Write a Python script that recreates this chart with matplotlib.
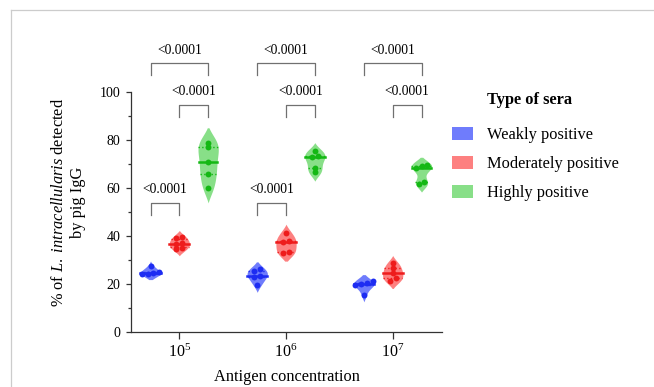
import numpy as np
import matplotlib
matplotlib.use('Agg')
import matplotlib.pyplot as plt
from matplotlib.patches import Patch
from matplotlib.lines import Line2D

plt.rcParams['font.family'] = ['Liberation Serif', 'DejaVu Serif']
plt.rcParams['mathtext.fontset'] = 'custom'
plt.rcParams['mathtext.rm'] = 'Liberation Serif'
plt.rcParams['mathtext.it'] = 'Liberation Serif:italic'
plt.rcParams['mathtext.bf'] = 'Liberation Serif:bold'

# data
concentrations = ['$10^5$', '$10^6$', '$10^7$']
sera_types = ['Weakly positive', 'Moderately positive', 'Highly positive']

weakly = [
    [27.3, 24.8, 24.6, 24.2, 24.0],
    [26.1, 25.4, 23.3, 22.7, 19.5],
    [21.0, 20.5, 19.8, 19.3, 15.3],
]
moderately = [
    [39.5, 39.3, 37.0, 36.6, 35.0, 34.4],
    [41.4, 38.0, 37.3, 33.2, 33.0],
    [28.6, 26.5, 24.4, 22.3, 21.3],
]
highly = [
    [79.0, 77.0, 71.0, 66.0, 60.0],
    [75.3, 73.2, 72.8, 68.2, 66.5],
    [69.5, 69.3, 68.5, 62.4, 61.7],
]

# (first series, second series, label) per concentration
comparisons = [
    [(0, 2, '<0.0001'), (1, 2, '<0.0001'), (0, 1, '<0.0001')],
    [(0, 2, '<0.0001'), (1, 2, '<0.0001'), (0, 1, '<0.0001')],
    [(0, 2, '<0.0001'), (1, 2, '<0.0001')],
]

fill_colors = ['#6f7cfc', '#fd8080', '#88df88']
dot_colors = ['#1d2cf2', '#ee1c1c', '#14b814']
offsets = [-0.27, 0.0, 0.27]
half_width = 0.095


def kde_outline(vals, cut=1.4, n=200):
    vals = np.asarray(vals, dtype=float)
    bw = 0.18 * (vals.max() - vals.min()) + 1.0
    ys = np.linspace(vals.min() - cut * bw, vals.max() + cut * bw, n)
    dens = np.exp(-0.5 * ((ys[:, None] - vals[None, :]) / bw) ** 2).sum(axis=1)
    dens = np.clip(dens - min(dens[0], dens[-1]), 0, None)
    return ys, dens / dens.max()


def spread(vals, tol=1.2, step=0.055):
    # spread points that sit at nearly the same height
    vals = np.asarray(vals, dtype=float)
    order = np.argsort(vals)
    dx = np.zeros(len(vals))
    groups = [[order[0]]]
    for i in order[1:]:
        if vals[i] - vals[groups[-1][-1]] < tol:
            groups[-1].append(i)
        else:
            groups.append([i])
    for g in groups:
        k = len(g)
        for j, idx in enumerate(g):
            dx[idx] = (j - (k - 1) / 2) * step
    return dx


fig = plt.figure(figsize=(6.54, 3.87), dpi=100)
ax = fig.add_axes([131 / 654, 1 - 331.7 / 387, 311 / 654, 239.4 / 387])

series = [weakly, moderately, highly]
for g in range(len(concentrations)):
    for s in range(3):
        vals = np.array(series[s][g])
        xc = g + 1 + offsets[s]
        ys, dens = kde_outline(vals)
        w = dens * half_width
        ax.fill_betweenx(ys, xc - w, xc + w, color=fill_colors[s], lw=0, zorder=2)
        q1, med, q3 = np.percentile(vals, [25, 50, 75])
        for q, ls, lw in [(q1, ':', 1.0), (med, '-', 1.8), (q3, ':', 1.0)]:
            wq = np.interp(q, ys, w)
            ax.plot([xc - wq, xc + wq], [q, q], color=dot_colors[s], ls=ls, lw=lw, zorder=3)
        ax.scatter(xc + spread(vals), vals, s=18, color=dot_colors[s], lw=0, zorder=4)

# significance brackets
bracket_levels = {(0, 2): (112.1, 107.2, 117.4), (1, 2): (94.7, 89.7, 100.5), (0, 1): (53.6, 48.7, 59.4)}
for g, comps in enumerate(comparisons):
    for a, b, label in comps:
        top, low, ty = bracket_levels[(a, b)]
        x0 = g + 1 + offsets[a]
        x1 = g + 1 + offsets[b]
        ax.plot([x0, x0, x1, x1], [low, top, top, low], color='#707070', lw=0.9,
                clip_on=False, zorder=1)
        ax.text((x0 + x1) / 2, ty, label, ha='center', va='center', fontsize=9.8)

ax.set_xlim(0.547, 3.462)
ax.set_ylim(0, 100)
ax.set_xticks([1, 2, 3])
ax.set_xticklabels(concentrations)
ax.set_yticks(np.arange(0, 101, 20))
ax.set_yticks(np.arange(10, 100, 20), minor=True)
ax.spines['top'].set_visible(False)
ax.spines['right'].set_visible(False)
for sp in ['left', 'bottom']:
    ax.spines[sp].set_color('#333333')
    ax.spines[sp].set_linewidth(0.9)
ax.tick_params(axis='y', which='major', length=3.6, width=0.9, color='#333333',
               labelsize=10, pad=4)
ax.tick_params(axis='y', which='minor', length=2.4, width=0.9, color='#333333')
ax.tick_params(axis='x', which='major', length=5, width=0.9, color='#333333',
               labelsize=11.5, pad=4)

ax.text(0.5, -0.19, 'Antigen concentration', transform=ax.transAxes,
        ha='center', va='center', fontsize=11.8)
ax.text(-0.201, 0.539, '% of $\\it{L.\\ intracellularis}$ detected\nby pig IgG',
        transform=ax.transAxes, rotation=90, ha='center', va='center',
        multialignment='center', fontsize=11.8)

handles = [Patch(facecolor=c, edgecolor='none') for c in fill_colors]
fig.text(529.5 / 654, 1 - 100 / 387, 'Type of sera', ha='center', va='center',
         fontsize=11.8, fontweight='bold')
fig.legend(handles, sera_types, loc='upper left',
           bbox_to_anchor=(452 / 654, 1 - 127 / 387), frameon=False,
           fontsize=11.8, handlelength=1.28, handleheight=0.8, handletextpad=0.85,
           labelspacing=0.8, borderpad=0, borderaxespad=0)

# light frame around the panel
fig.add_artist(Line2D([11 / 654, 11 / 654], [0, 1 - 10 / 387], color='#cccccc', lw=0.9))
fig.add_artist(Line2D([11 / 654, 1], [1 - 10 / 387, 1 - 10 / 387], color='#cccccc', lw=0.9))

fig.savefig('out.png', dpi=100)
